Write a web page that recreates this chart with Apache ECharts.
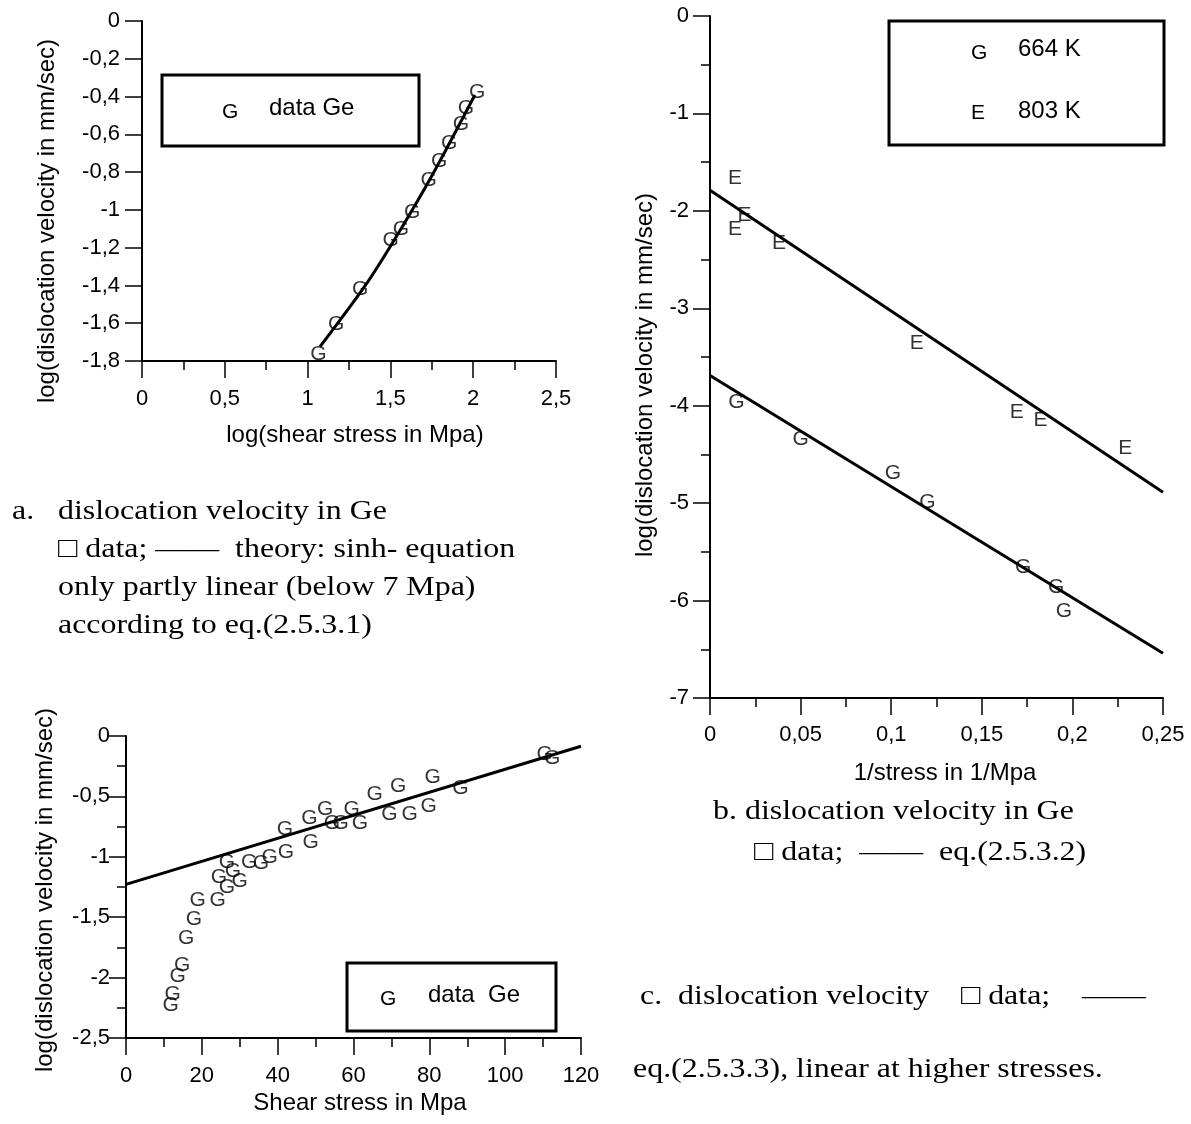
<!DOCTYPE html>
<html>
<head>
<meta charset="utf-8">
<script src="https://cdn.jsdelivr.net/npm/echarts@6/dist/echarts.min.js"></script>
<style>
  html, body { margin: 0; padding: 0; background: #fff; }
  #main { width: 1191px; height: 1124px; }
</style>
</head>
<body>
<div id="main"></div>
<script>
// a. log(velocity) vs log(shear stress)
const aStressLog = [1.065, 1.172, 1.317, 1.502, 1.564, 1.632, 1.731, 1.795, 1.855, 1.926, 1.956, 2.024];
const aVelLog = [-1.763, -1.604, -1.42, -1.163, -1.103, -1.01, -0.842, -0.741, -0.648, -0.545, -0.462, -0.379];
const aTheoryX = [1.075, 1.357, 1.56, 1.759, 2.01];
const aTheoryY = [-1.724, -1.389, -1.106, -0.806, -0.392];

// b. log(velocity) vs 1/stress, two temperatures
const bInv803 = [0.0138, 0.019, 0.0138, 0.0381, 0.1141, 0.1693, 0.1824, 0.2292];
const bVel803 = [-1.668, -2.044, -2.185, -2.328, -3.354, -4.062, -4.147, -4.437];
const bInv664 = [0.0146, 0.05, 0.101, 0.12, 0.1728, 0.1911, 0.1953];
const bVel664 = [-3.969, -4.342, -4.693, -4.99, -5.662, -5.863, -6.106];
const bLineX = [0, 0.25];
const bLine803 = [-1.788, -4.888];
const bLine664 = [-3.69, -6.54];

// c. log(velocity) vs shear stress
const cStress = [110.4, 112.4, 80.9, 71.8, 65.6, 88.2, 79.8, 74.8, 69.5, 59.5, 52.5, 48.4,
  61.7, 56.6, 54.3, 41.9, 48.7, 42.2, 37.9, 35.6, 32.5, 26.6, 28.2, 24.5, 30.0, 26.6,
  24.2, 18.9, 17.9, 15.9, 14.8, 13.6, 12.3, 11.8];
const cVelLog = [-0.151, -0.182, -0.339, -0.416, -0.483, -0.436, -0.582, -0.648, -0.648, -0.609, -0.609, -0.679,
  -0.725, -0.725, -0.725, -0.775, -0.883, -0.965, -1.007, -1.056, -1.042, -1.042, -1.12, -1.172, -1.2, -1.255,
  -1.36, -1.36, -1.52, -1.677, -1.898, -1.989, -2.138, -2.229];
const cLineX = [0, 120];
const cLineY = [-1.228, -0.085];

const sans = 'Liberation Sans';
const serif = 'Liberation Serif';

function zip(xs, ys) { return xs.map((x, i) => [x, ys[i]]); }
function comma(v) { return String(Math.round(v * 1000) / 1000).replace('.', ','); }

function axis(grid, min, max, interval, minor, margin) {
  return {
    type: 'value', gridIndex: grid, min: min, max: max, interval: interval,
    axisLine: { onZero: false, lineStyle: { color: '#000', width: 2 } },
    axisTick: { length: 17, lineStyle: { color: '#000', width: 1.5 } },
    minorTick: { show: minor, splitNumber: 2, length: 9, lineStyle: { color: '#000', width: 1.5 } },
    splitLine: { show: false },
    axisLabel: { color: '#000', fontFamily: sans, fontSize: 22, margin: margin, formatter: comma }
  };
}
function letters(name, grid, data, ch) {
  return {
    name: name, type: 'scatter', xAxisIndex: grid, yAxisIndex: grid,
    data: data, symbolSize: 2, itemStyle: { color: 'rgba(0,0,0,0)' },
    label: { show: true, position: 'inside', formatter: ch, color: '#000', fontFamily: sans, fontSize: 21 }
  };
}
function line(name, grid, data, smooth) {
  return {
    name: name, type: 'line', xAxisIndex: grid, yAxisIndex: grid, data: data,
    showSymbol: false, smooth: smooth, lineStyle: { color: '#000', width: 3 }
  };
}
function txt(x, y, s, size, align, extra) {
  return Object.assign({
    type: 'text', x: x, y: y, z: 6,
    style: { text: s, fill: '#000', fontFamily: sans, fontSize: size, align: align || 'left', verticalAlign: 'middle' }
  }, extra || {});
}
function cap(x, y, s) {
  return {
    type: 'text', x: x, y: y - 3, scaleX: 1.14,
    style: { text: s, fill: '#000', fontFamily: serif, fontSize: 28, align: 'left', verticalAlign: 'middle' }
  };
}
function box(x1, y1, x2, y2) {
  return { type: 'rect', shape: { x: x1, y: y1, width: x2 - x1, height: y2 - y1 },
    style: { fill: '#fff', stroke: '#000', lineWidth: 3 }, z: 5 };
}
const ROT = { rotation: Math.PI / 2 };
const yTitle = 'log(dislocation velocity in mm/sec)';

const chart = echarts.init(document.getElementById('main'));
chart.setOption({
  animation: false,
  backgroundColor: '#fff',
  grid: [
    { left: 142, top: 21, width: 414, height: 340 },
    { left: 710, top: 16, width: 453, height: 682 },
    { left: 126, top: 736, width: 455, height: 302 }
  ],
  xAxis: [
    axis(0, 0, 2.5, 0.5, true, 27),
    axis(1, 0, 0.25, 0.05, true, 26),
    axis(2, 0, 120, 20, true, 27)
  ],
  yAxis: [
    axis(0, -1.8, 0, 0.2, false, 22),
    axis(1, -7, 0, 1, true, 21),
    axis(2, -2.5, 0, 0.5, true, 16)
  ],
  series: [
    letters('data Ge', 0, zip(aStressLog, aVelLog), 'G'),
    line('theory: sinh- equation', 0, zip(aTheoryX, aTheoryY), 0.3),
    letters('664 K', 1, zip(bInv664, bVel664), 'G'),
    letters('803 K', 1, zip(bInv803, bVel803), 'E'),
    line('eq.(2.5.3.2) 803 K', 1, zip(bLineX, bLine803), false),
    line('eq.(2.5.3.2) 664 K', 1, zip(bLineX, bLine664), false),
    letters('data  Ge', 2, zip(cStress, cVelLog), 'G'),
    line('eq.(2.5.3.3)', 2, zip(cLineX, cLineY), false)
  ],
  graphic: [
    // axis titles
    txt(47, 221, yTitle, 24, 'center', ROT),
    txt(355, 435, 'log(shear stress in Mpa)', 24, 'center'),
    txt(645, 375, yTitle, 24, 'center', ROT),
    txt(945, 773, '1/stress in 1/Mpa', 24, 'center'),
    txt(45, 890, yTitle, 24, 'center', ROT),
    txt(360, 1103, 'Shear stress in Mpa', 24, 'center'),

    // legend boxes
    box(162, 75, 419, 146),
    txt(222, 112, 'G', 21),
    txt(269, 108, 'data Ge', 24),
    box(889, 21, 1164, 145),
    txt(971, 53, 'G', 21),
    txt(1018, 49, '664 K', 24),
    txt(971, 113, 'E', 21),
    txt(1018, 111, '803 K', 24),
    box(347, 963, 556, 1031),
    txt(380, 999, 'G', 21),
    txt(428, 995, 'data  Ge', 24),

    // captions
    cap(12, 515, 'a.'),
    cap(58, 515, 'dislocation velocity in Ge'),
    cap(58, 553, '\u25A1 data; \u2014\u2014  theory: sinh- equation'),
    cap(58, 591, 'only partly linear (below 7 Mpa)'),
    cap(58, 629, 'according to eq.(2.5.3.1)'),
    cap(713, 815, 'b. dislocation velocity in Ge'),
    cap(754, 856, '\u25A1 data;  \u2014\u2014  eq.(2.5.3.2)'),
    cap(640, 1000, 'c.  dislocation velocity    \u25A1 data;    \u2014\u2014'),
    cap(633, 1073, 'eq.(2.5.3.3), linear at higher stresses.')
  ]
});
</script>
</body>
</html>
